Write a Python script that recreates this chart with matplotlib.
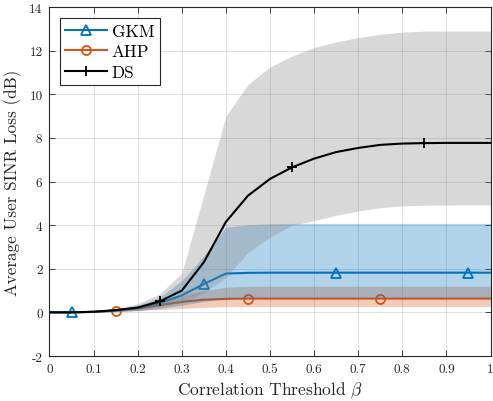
import matplotlib
matplotlib.use("Agg")
import matplotlib.pyplot as plt
import numpy as np

plt.rcParams["font.family"] = "serif"
plt.rcParams["font.serif"] = ["cmr10"]
plt.rcParams["mathtext.fontset"] = "cm"
plt.rcParams["axes.formatter.use_mathtext"] = True

# Correlation threshold samples
beta = [0.00, 0.05, 0.10, 0.15, 0.20, 0.25, 0.30, 0.35, 0.40, 0.45, 0.50,
        0.55, 0.60, 0.65, 0.70, 0.75, 0.80, 0.85, 0.90, 0.95, 1.00]

# Mean SINR loss (dB)
gkm_mean = [0, 0, 0.02, 0.09, 0.20, 0.42, 0.78, 1.30, 1.78, 1.81, 1.82,
            1.82, 1.82, 1.82, 1.82, 1.82, 1.82, 1.82, 1.82, 1.82, 1.82]
ahp_mean = [0, 0, 0.02, 0.08, 0.17, 0.33, 0.48, 0.58, 0.62, 0.63, 0.63,
            0.63, 0.63, 0.63, 0.63, 0.63, 0.63, 0.63, 0.63, 0.63, 0.63]
ds_mean = [0, 0, 0.03, 0.10, 0.22, 0.50, 1.00, 2.30, 4.15, 5.35, 6.12,
           6.65, 7.05, 7.35, 7.54, 7.68, 7.74, 7.76, 7.77, 7.77, 7.77]

# Spread bands (lower / upper)
gkm_low = [0, 0, 0.01, 0.03, 0.08, 0.18, 0.33, 0.50, 0.62, 0.66, 0.66,
           0.66, 0.66, 0.66, 0.66, 0.66, 0.66, 0.66, 0.66, 0.66, 0.66]
gkm_high = [0, 0.02, 0.05, 0.14, 0.32, 0.70, 1.45, 2.60, 3.90, 4.02, 4.06,
            4.08, 4.08, 4.08, 4.08, 4.08, 4.08, 4.08, 4.08, 4.08, 4.08]
ahp_low = [0, 0, 0.01, 0.03, 0.08, 0.13, 0.18, 0.23, 0.26, 0.27, 0.27,
           0.27, 0.27, 0.27, 0.27, 0.27, 0.27, 0.27, 0.27, 0.27, 0.27]
ahp_high = [0, 0.01, 0.04, 0.12, 0.28, 0.50, 0.78, 1.00, 1.15, 1.20, 1.20,
            1.20, 1.20, 1.20, 1.20, 1.20, 1.20, 1.20, 1.20, 1.20, 1.20]
ds_low = [0, 0, 0.01, 0.04, 0.10, 0.25, 0.45, 0.90, 1.60, 2.75, 3.45,
          4.00, 4.20, 4.45, 4.65, 4.80, 4.88, 4.91, 4.92, 4.93, 4.93]
ds_high = [0, 0.02, 0.06, 0.18, 0.40, 0.85, 1.80, 5.40, 9.00, 10.45, 11.25,
           11.75, 12.15, 12.40, 12.60, 12.75, 12.85, 12.90, 12.90, 12.90, 12.90]

xticks = [0, 0.1, 0.2, 0.3, 0.4, 0.5, 0.6, 0.7, 0.8, 0.9, 1]
xticklabels = ["0", "0.1", "0.2", "0.3", "0.4", "0.5", "0.6", "0.7", "0.8", "0.9", "1"]
yticks = [-2, 0, 2, 4, 6, 8, 10, 12, 14]
yticklabels = ["-2", "0", "2", "4", "6", "8", "10", "12", "14"]

blue = "#0072BD"
orange = "#D95319"
axcol = "#262626"

fig = plt.figure(figsize=(4.93, 4.02), dpi=100)
ax = fig.add_axes([0.1004, 0.112, 0.8946, 0.868])

# AHP
ax.fill_between(beta, ahp_low, ahp_high, color=orange, alpha=0.3, lw=0, zorder=2)
ahp_line, = ax.plot(beta, ahp_mean, color=orange, lw=1.5, marker="o", ms=6.5,
                    mfc="none", mew=1.3, markevery=[3, 9, 15], zorder=3)
# GKM
ax.fill_between(beta, gkm_low, gkm_high, color=blue, alpha=0.3, lw=0, zorder=4)
gkm_line, = ax.plot(beta, gkm_mean, color=blue, lw=1.5, marker="^", ms=7,
                    mfc="none", mew=1.3, markevery=[1, 7, 13, 19], zorder=5)
# DS
ax.fill_between(beta, ds_low, ds_high, color="#808080", alpha=0.3, lw=0, zorder=6)
ds_line, = ax.plot(beta, ds_mean, color="black", lw=1.5, marker="+", ms=7,
                   mew=1.3, markevery=[5, 11, 17], zorder=7)

ax.set_xlim(0, 1)
ax.set_ylim(-2, 14)
ax.set_xticks(xticks)
ax.set_xticklabels(xticklabels)
ax.set_yticks(yticks)
ax.set_yticklabels(yticklabels)

ax.grid(True, color=axcol, alpha=0.17, lw=0.6)
ax.set_axisbelow(True)
ax.tick_params(direction="in", top=True, right=True, length=4, width=0.6,
               colors=axcol, labelsize=9.5, pad=5)
for s in ax.spines.values():
    s.set_color(axcol)
    s.set_linewidth(0.8)

ax.set_xlabel(r"Correlation Threshold $\beta$", fontsize=12.5, color=axcol, labelpad=3)
ax.set_ylabel("Average User SINR Loss (dB)", fontsize=12.3, color=axcol, labelpad=5)

leg = ax.legend([gkm_line, ahp_line, ds_line], ["GKM", "AHP", "DS"],
                loc="upper left", bbox_to_anchor=(0.024, 0.968), borderaxespad=0,
                fontsize=12.4, fancybox=False, framealpha=1, edgecolor=axcol,
                handlelength=2.4, handletextpad=0.3, labelspacing=0.3,
                borderpad=0.3)
leg.get_frame().set_linewidth(0.8)

fig.savefig("out.png", dpi=100)
